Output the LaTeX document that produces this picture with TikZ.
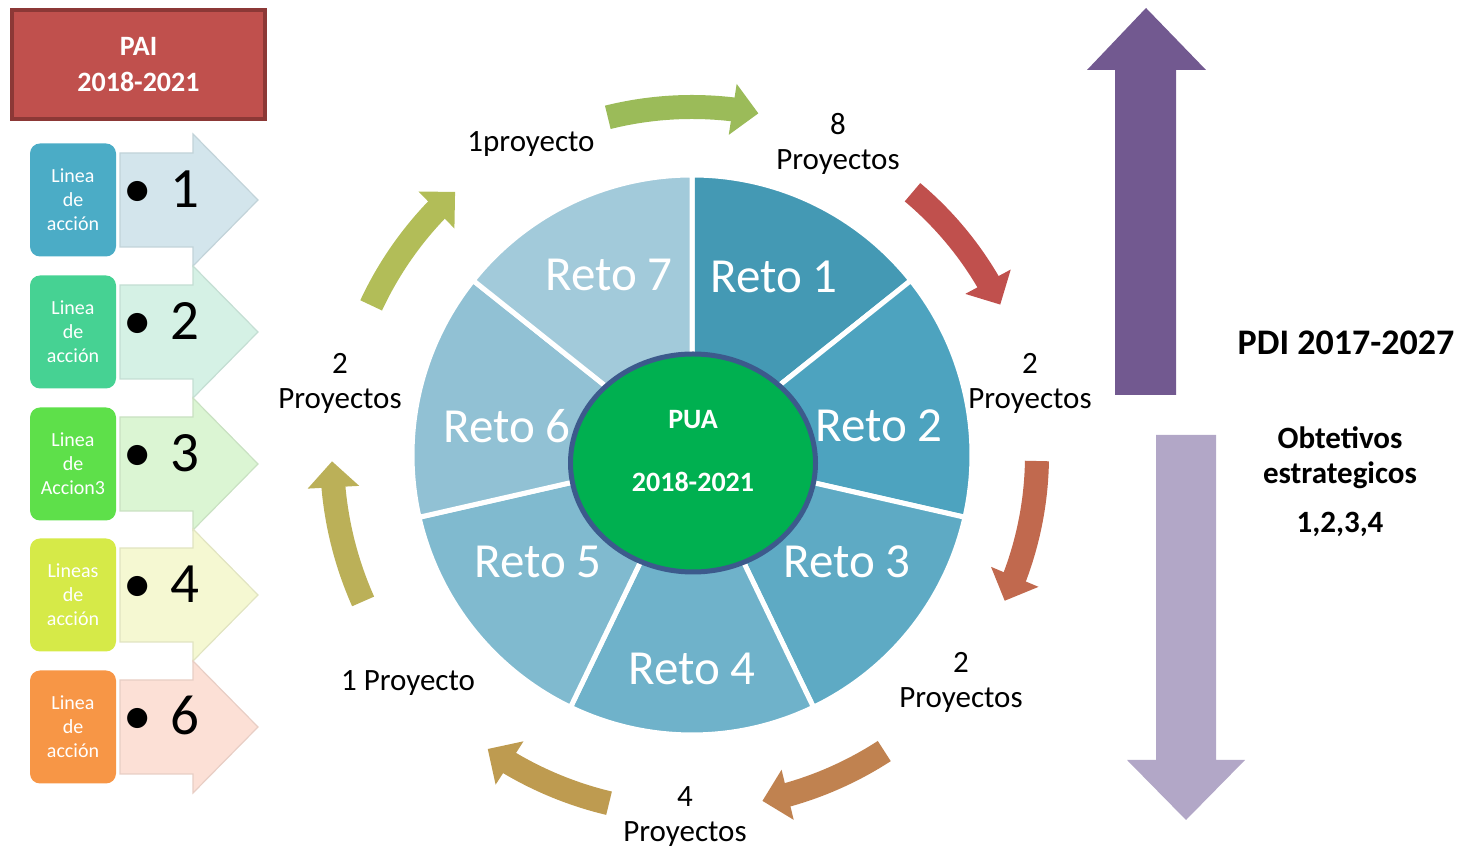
\documentclass[tikz,border=0pt]{standalone}
\usepackage{fontspec}
\setmainfont{Carlito}
\usetikzlibrary{positioning,arrows.meta,bending,shapes.geometric}
\definecolor{paired}{HTML}{C0504D}
\definecolor{paiedge}{HTML}{8C3836}
\definecolor{linea1}{HTML}{4BACC6}
\definecolor{linea2}{HTML}{46D293}
\definecolor{linea3}{HTML}{5EE04A}
\definecolor{linea4}{HTML}{D6EA48}
\definecolor{linea5}{HTML}{F79646}
\definecolor{chev1}{HTML}{D3E5EC}
\definecolor{chev2}{HTML}{D5F1E5}
\definecolor{chev3}{HTML}{DBF5D3}
\definecolor{chev4}{HTML}{F5F8D2}
\definecolor{chev5}{HTML}{FCE0D6}
\definecolor{reto1}{HTML}{4499B4}
\definecolor{reto2}{HTML}{4DA3BF}
\definecolor{reto3}{HTML}{5EAAC4}
\definecolor{reto4}{HTML}{6FB2CA}
\definecolor{reto5}{HTML}{80BACF}
\definecolor{reto6}{HTML}{91C1D4}
\definecolor{reto7}{HTML}{A2CADA}
\definecolor{puagreen}{HTML}{00B050}
\definecolor{puaedge}{HTML}{3C5A8C}
\definecolor{arrA}{HTML}{9BBB59}
\definecolor{arrB}{HTML}{C0504D}
\definecolor{arrC}{HTML}{C1694E}
\definecolor{arrD}{HTML}{C08250}
\definecolor{arrE}{HTML}{BE9B50}
\definecolor{arrF}{HTML}{BBB058}
\definecolor{arrG}{HTML}{B2BD58}
\definecolor{pdiup}{HTML}{725990}
\definecolor{pdidown}{HTML}{B2A7C7}
\tikzstyle{linea}=[rounded corners=10pt, minimum width=86pt, minimum height=113pt, inner sep=0pt, text=white, align=center, font=\fontsize{20}{24}\selectfont]
\tikzstyle{chev}=[line width=1.2pt]
\tikzstyle{num}=[anchor=base, inner sep=0pt, font=\fontsize{57}{60}\selectfont]
\tikzstyle{sect}=[draw=white, line width=5pt]
\tikzstyle{reto}=[text=white, font=\fontsize{49}{50}\selectfont]
\tikzstyle{lbl}=[align=center, font=\fontsize{31}{35}\selectfont]
\tikzstyle{flecha}=[line width=24pt, -{Triangle[width=50pt,length=26pt]}]

\begin{document}
\begin{tikzpicture}[x=1pt,y=1pt]
\useasboundingbox (0,0) rectangle (1478,851);

% PAI
\node[draw=paiedge, fill=paired, line width=4pt, minimum width=253pt, minimum height=109pt, text=white, align=center, font=\bfseries\fontsize{28}{36}\selectfont] (pai) at (138.5,786.5) {PAI\\2018-2021};

% lineas de accion
\filldraw[chev, fill=chev1, draw=chev1!92!black] (120,698) -- (193,698) -- (193,717) -- (258,651) -- (193,585) -- (193,604) -- (120,604) -- cycle;
\node[linea, fill=linea1] (lin1) at (73,651) {Linea\\de\\acción};
\node[num] (bul1) at (138,643) {\textbullet};
\node[num, xshift=47pt] (num1) at (bul1.base) {1};

\filldraw[chev, fill=chev2, draw=chev2!92!black] (120,566) -- (193,566) -- (193,585) -- (258,519) -- (193,453) -- (193,472) -- (120,472) -- cycle;
\node[linea, fill=linea2] (lin2) at (73,519) {Linea\\de\\acción};
\node[num] (bul2) at (138,511) {\textbullet};
\node[num, xshift=47pt] (num2) at (bul2.base) {2};

\filldraw[chev, fill=chev3, draw=chev3!92!black] (120,434) -- (193,434) -- (193,453) -- (258,387) -- (193,321) -- (193,340) -- (120,340) -- cycle;
\node[linea, fill=linea3] (lin3) at (73,387) {Linea\\de\\Accion3};
\node[num] (bul3) at (138,379) {\textbullet};
\node[num, xshift=47pt] (num3) at (bul3.base) {3};

\filldraw[chev, fill=chev4, draw=chev4!92!black] (120,303) -- (193,303) -- (193,322) -- (258,256) -- (193,190) -- (193,209) -- (120,209) -- cycle;
\node[linea, fill=linea4] (lin4) at (73,256) {Lineas\\de\\acción};
\node[num] (bul4) at (138,248) {\textbullet};
\node[num, xshift=47pt] (num4) at (bul4.base) {4};

\filldraw[chev, fill=chev5, draw=chev5!92!black] (120,171) -- (193,171) -- (193,190) -- (258,124) -- (193,58) -- (193,77) -- (120,77) -- cycle;
\node[linea, fill=linea5] (lin5) at (73,124) {Linea\\de\\acción};
\node[num] (bul5) at (138,116) {\textbullet};
\node[num, xshift=47pt] (num5) at (bul5.base) {6};

% retos
\coordinate (ctr) at (692,396);
\filldraw[sect, fill=reto1] (ctr) -- ++(90:280) arc[start angle=90, end angle=38.571, radius=280] -- cycle;
\filldraw[sect, fill=reto2] (ctr) -- ++(38.571:280) arc[start angle=38.571, end angle=-12.857, radius=280] -- cycle;
\filldraw[sect, fill=reto3] (ctr) -- ++(-12.857:280) arc[start angle=-12.857, end angle=-64.286, radius=280] -- cycle;
\filldraw[sect, fill=reto4] (ctr) -- ++(-64.286:280) arc[start angle=-64.286, end angle=-115.714, radius=280] -- cycle;
\filldraw[sect, fill=reto5] (ctr) -- ++(-115.714:280) arc[start angle=-115.714, end angle=-167.143, radius=280] -- cycle;
\filldraw[sect, fill=reto6] (ctr) -- ++(-167.143:280) arc[start angle=-167.143, end angle=-218.571, radius=280] -- cycle;
\filldraw[sect, fill=reto7] (ctr) -- ++(-218.571:280) arc[start angle=-218.571, end angle=-270, radius=280] -- cycle;

\node[reto] (r1) at (774,574) {Reto 1};
\node[reto] (r2) at (879,425) {Reto 2};
\node[reto] (r3) at (847,289) {Reto 3};
\node[reto] (r4) at (692,182) {Reto 4};
\node[reto] (r5) at (538,289) {Reto 5};
\node[reto] (r6) at (507,425) {Reto 6};
\node[reto] (r7) at (609,576) {Reto 7};

\node[ellipse, draw=puaedge, fill=puagreen, line width=5pt, minimum width=245pt, minimum height=218pt] (pua) at (693,388) {};
\node[text=white, align=center, font=\bfseries\fontsize{28}{63}\selectfont] (puatxt) at (693,399.5) {PUA\\2018-2021};

% proyectos
\node[lbl] (p1) at (531,707) {1proyecto};
\node[lbl] (p8) at (838,707) {8\\Proyectos};
\node[lbl] (p2a) at (1030,467.5) {2\\Proyectos};
\node[lbl] (p2b) at (961,168.5) {2\\Proyectos};
\node[lbl] (p4) at (685,34.5) {4\\Proyectos};
\node[lbl] (p1b) at (408,168) {1 Proyecto};
\node[lbl] (p2c) at (340,467.5) {2\\Proyectos};

\draw[flecha, arrA] ([shift={(104:348)}]ctr) arc[start angle=104, end angle=79, radius=348];
\draw[flecha, arrB] ([shift={(50:343)}]ctr) arc[start angle=50, end angle=26, radius=343];
\draw[flecha, arrC] ([shift={(-1:345)}]ctr) arc[start angle=-1, end angle=-25, radius=345];
\draw[flecha, arrD] ([shift={(-57:353)}]ctr) arc[start angle=-57, end angle=-78.5, radius=353];
\draw[flecha, arrE] ([shift={(-103.4:358)}]ctr) arc[start angle=-103.4, end angle=-124.8, radius=358];
\draw[flecha, arrF] ([shift={(204:360)}]ctr) arc[start angle=204, end angle=181, radius=360];
\draw[flecha, arrG] ([shift={(155:354)}]ctr) arc[start angle=155, end angle=132, radius=354];

% PDI
\fill[pdiup] (1115,456) -- (1115,781) -- (1087,781) -- (1146,843) -- (1206,781) -- (1176,781) -- (1176,456) -- cycle;
\fill[pdidown] (1156,416) -- (1156,91) -- (1127,91) -- (1186,31) -- (1245,91) -- (1216,91) -- (1216,416) -- cycle;

\node[font=\bfseries\fontsize{36}{40}\selectfont] (pdi) at (1346,508) {PDI 2017-2027};
\node[align=center, font=\bfseries\fontsize{31}{35}\selectfont] (obj) at (1340,393.5) {Obtetivos\\estrategicos};
\node[font=\bfseries\fontsize{31}{35}\selectfont] (objn) at (1340,327) {1,2,3,4};
\end{tikzpicture}
\end{document}
